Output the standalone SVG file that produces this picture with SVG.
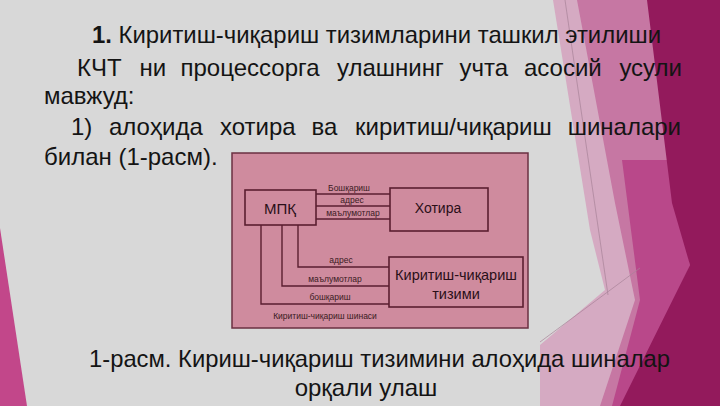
<svg xmlns="http://www.w3.org/2000/svg" width="720" height="406" viewBox="0 0 720 406">
<style>
.body{font-family:"Liberation Sans",Arial,sans-serif;font-size:24px;fill:#141414}
.lbl{font-family:"Liberation Sans",Arial,sans-serif;font-size:8.5px;fill:#3a1a22;text-anchor:middle}
.nt{font-family:"Liberation Sans",Arial,sans-serif;fill:#2a0f18;text-anchor:middle}
.box{fill:none;stroke:#5a1e30;stroke-width:1.6}
.bus{fill:none;stroke:#5a1e30;stroke-width:1.4}
</style>
<rect width="720" height="406" fill="#d8d8d8"/>
<g id="decor">
<polygon points="0,228 27,406 0,406" fill="#c2478a"/>
<polygon points="553,0 720,0 720,406 540,406 540,345 605,290 590,230" fill="#d5aac2"/>
<polygon points="577,0 720,0 720,406 600,406 635,300 615,203" fill="#c677a3"/>
<polygon points="622,160 668,160 690,265 625,406 612,406 640,300" fill="#b9488a"/>
<polygon points="647,0 720,0 720,406 620,406 690,265 672,203" fill="#931a5c"/>
<line x1="565" y1="0" x2="608" y2="295" stroke="#a88398" stroke-width="0.7"/>
<line x1="640" y1="268" x2="540" y2="342" stroke="#a88398" stroke-width="0.7"/>
</g>
<g id="text">
<text class="body" y="43" x="92" textLength="569" lengthAdjust="spacingAndGlyphs"><tspan font-weight="bold">1.</tspan> Киритиш-чиқариш тизимларини ташкил этилиши</text>
<text class="body" y="76"><tspan x="77">КЧТ</tspan><tspan x="139.5">ни</tspan><tspan x="180.5">процессорга</tspan><tspan x="337">улашнинг</tspan><tspan x="459.5">учта</tspan><tspan x="524">асосий</tspan></text>
<text class="body" y="76" x="682" text-anchor="end">усули</text>
<text class="body" x="44" y="104">мавжуд:</text>
<text class="body" y="135"><tspan x="71">1)</tspan><tspan x="109">алоҳида</tspan><tspan x="220">хотира</tspan><tspan x="311.5">ва</tspan><tspan x="355">киритиш/чиқариш</tspan></text>
<text class="body" y="135" x="681" text-anchor="end">шиналари</text>
<text class="body" x="44" y="165">билан (1-расм).</text>
<text class="body" x="89" y="367" textLength="581" lengthAdjust="spacingAndGlyphs">1-расм. Кириш-чиқариш тизимини алоҳида шиналар</text>
<text class="body" x="366" y="396" text-anchor="middle">орқали улаш</text>
</g>
<rect id="panel" x="232" y="153" width="296" height="175" fill="#cf8b9e" stroke="#6b3142" stroke-width="1.5"/>
<g id="connectors">
<line class="bus" x1="316" y1="194" x2="390" y2="194"/>
<line class="bus" x1="316" y1="206" x2="390" y2="206"/>
<line class="bus" x1="316" y1="219" x2="390" y2="219"/>
<polyline class="bus" points="298,225 298,267 389,267"/>
<polyline class="bus" points="282,225 282,286 389,286"/>
<polyline class="bus" points="261,225 261,304 389,304"/>
<text class="lbl" x="349" y="191">Бошқариш</text>
<text class="lbl" x="352" y="203">адрес</text>
<text class="lbl" x="353" y="216">маълумотлар</text>
<text class="lbl" x="341" y="263">адрес</text>
<text class="lbl" x="335" y="282">маълумотлар</text>
<text class="lbl" x="330" y="300">бошқариш</text>
<text class="lbl" x="325" y="319">Киритиш-чиқариш шинаси</text>
</g>
<g id="mpk"><rect class="box" x="245" y="190" width="71" height="35"/><text class="nt" x="280" y="214" font-size="15">МПҚ</text></g>
<g id="xotira"><rect class="box" x="390" y="188" width="98" height="43"/><text class="nt" x="438" y="213" font-size="14">Хотира</text></g>
<g id="io"><rect class="box" x="389" y="257" width="134" height="50"/><text class="nt" x="456" y="280" font-size="14.5">Киритиш-чиқариш</text><text class="nt" x="456" y="299" font-size="14.5">тизими</text></g>
</svg>
